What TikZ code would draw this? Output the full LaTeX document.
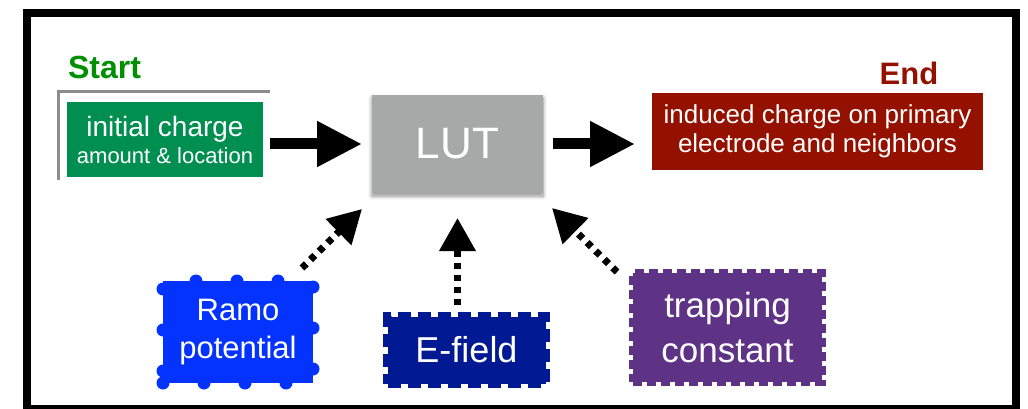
\documentclass[tikz,border=0pt]{standalone}
\usepackage{fontspec}
\setmainfont{Liberation Sans}
\usetikzlibrary{arrows.meta,shadows,shadows.blur}
\definecolor{startgreen}{RGB}{0,143,0}
\definecolor{initgreen}{RGB}{0,143,81}
\definecolor{endred}{RGB}{148,17,0}
\definecolor{lutgray}{RGB}{166,169,168}
\definecolor{ramoblue}{RGB}{4,51,255}
\definecolor{efnavy}{RGB}{1,25,147}
\definecolor{trappurple}{RGB}{94,50,133}
\definecolor{bracketgray}{RGB}{140,140,140}
\newcommand{\fsz}[2]{\fontsize{#1}{#2}\selectfont}
\tikzset{
  box/.style={rectangle, inner sep=0pt, outer sep=0pt, text=white, align=center},
  bigarrow/.style={line width=11pt, -{Triangle[length=45pt,width=43pt]}},
  dotarrow/.style={line width=7pt, dash pattern=on 6pt off 6pt, -{Triangle[length=33pt,width=35pt]}},
  title/.style={anchor=base, inner sep=0pt, font=\bfseries\fsz{32}{32}},
}
\begin{document}
\begin{tikzpicture}[x=1pt,y=-1pt]
\useasboundingbox (0,0) rectangle (1028,409);
% frame
\draw[line width=8pt] (27,13) rectangle (1016,409);
% bracket
\draw[bracketgray, line width=3pt] (58.5,180) -- (58.5,91.5) -- (270,91.5);
% titles
\node[title, text=startgreen] (start) at (104.5,79) {Start};
\node[title, text=endred, font=\bfseries\fsz{31}{31}] (end) at (909,85) {End};
% boxes
\node[box, fill=initgreen, minimum width=196pt, minimum height=75pt, font=\fsz{22}{27}] (init) at (165,139.5)
  {{\fsz{28}{27}initial charge}\\amount \& location};
\node[box, fill=lutgray, minimum width=171pt, minimum height=98pt, font=\fsz{44}{44},
  blur shadow={shadow xshift=0pt, shadow yshift=-3pt, shadow blur radius=4pt, shadow blur steps=8, shadow opacity=45}] (lut) at (457.5,144) {LUT};
\node[box, fill=endred, minimum width=331pt, minimum height=77pt, font=\fsz{26}{29}] (res) at (817.5,131.5)
  {induced charge on primary\\electrode and neighbors};
\node[box, fill=ramoblue, draw=ramoblue, line width=13pt, line cap=round, dash pattern=on 0pt off 41pt,
  minimum width=150pt, minimum height=102pt, font=\fsz{31}{38}] (ramo) at (238,332) {Ramo\\potential};
\node[box, fill=efnavy, draw=efnavy, line width=9pt, dash pattern=on 13pt off 7pt,
  minimum width=158pt, minimum height=67pt, font=\fsz{36}{36}] (efield) at (466.5,350) {E-field};
\node[box, fill=trappurple, draw=trappurple, line width=8pt, dash pattern=on 9pt off 5pt,
  minimum width=189pt, minimum height=109pt, font=\fsz{35}{45}] (trap) at (727.5,327.5) {trapping\\constant};
% arrows
\draw[bigarrow, shorten <=7pt, shorten >=10pt] (init.east |- lut.west) -- (lut.west);
\draw[bigarrow, shorten <=10pt, shorten >=17pt] (lut.east) -- (res.west |- lut.east);
\draw[dotarrow] ([xshift=-11pt,yshift=13pt]ramo.north east) -- ([xshift=-10pt,yshift=-16pt]lut.south west);
\draw[dotarrow] ([xshift=-9pt,yshift=11.5pt]efield.north) -- ([yshift=-25pt]lut.south);
\draw[dotarrow] ([xshift=-16pt,yshift=1pt]trap.north west) -- ([xshift=9pt,yshift=-15pt]lut.south east);
\end{tikzpicture}
\end{document}
